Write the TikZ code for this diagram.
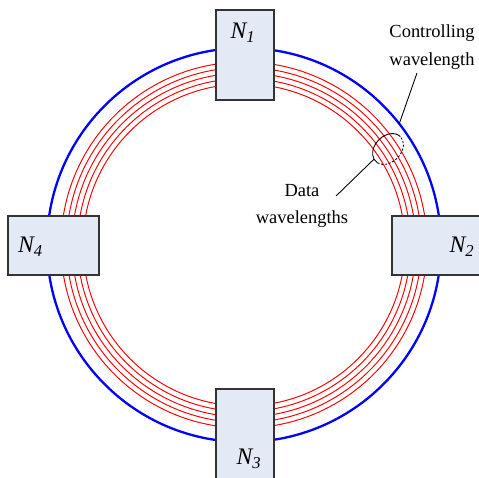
\documentclass[tikz,border=0pt]{standalone}
\usepackage{fontspec}
\setmainfont{Liberation Serif}
\usepackage{tikz}
\usetikzlibrary{calc,shadows}
\definecolor{BoxFill}{HTML}{E4EAF5}
\definecolor{BoxLine}{HTML}{333333}

\begin{document}
\begin{tikzpicture}[x=0.02cm,y=0.02cm,
    nodebox/.style={draw=BoxLine,fill=BoxFill,line width=0.6pt,inner sep=0pt,
      drop shadow={shadow xshift=-0.5pt,shadow yshift=-0.6pt,fill=gray!70,opacity=1}},
    nodelab/.style={font=\fontsize{13.5}{16}\selectfont\itshape,inner sep=0pt},
    datawl/.style={draw=red,line width=0.55pt},
    ctrlwl/.style={draw=blue,line width=1.3pt},
    callout/.style={font=\fontsize{10.5}{15.5}\selectfont,align=center,inner sep=0pt},
    pointer/.style={draw=black,line width=0.5pt}
]
\useasboundingbox (0,0) rectangle (479,477);
\coordinate (ring) at (244,232);
% wavelength rings
\draw[ctrlwl] (ring) circle[radius=197];
\foreach \r in {161,166.5,172,177.5,183}{\draw[datawl] (ring) circle[radius=\r];}
% ring nodes
\node[nodebox,minimum width=1.16cm,minimum height=1.8cm] (n1) at (245,422) {};
\node[nodebox,minimum width=1.82cm,minimum height=1.18cm] (n2) at (437.5,231.5) {};
\node[nodebox,minimum width=1.16cm,minimum height=1.8cm] (n3) at (245,43) {};
\node[nodebox,minimum width=1.82cm,minimum height=1.18cm] (n4) at (53.5,231.5) {};
\node[nodelab] (n1lab) at (243,444) {N\textsubscript{1}};
\node[nodelab] (n2lab) at (462,230) {N\textsubscript{2}};
\node[nodelab] (n3lab) at (249,18) {N\textsubscript{3}};
\node[nodelab] (n4lab) at (30.5,230.5) {N\textsubscript{4}};
% marked data wavelengths
\begin{scope}[shift={(388,328)},rotate=45]
\draw[pointer] (0:17.5 and 13) arc[start angle=0,end angle=190,x radius=17.5,y radius=13];
\draw[pointer,dash pattern=on 1.2pt off 1pt] (190:17.5 and 13) arc[start angle=190,end angle=360,x radius=17.5,y radius=13];
\coordinate (wlend) at (168:17.5 and 13);
\end{scope}
% callouts
\node[callout] (ctrltxt) at (432,430) {Controlling\\wavelength};
\node[callout] (datatxt) at (302,271) {Data\\wavelengths};
\coordinate (ctrlptr) at (417,404);
\coordinate (ctrlend) at ($(ring)+(38:197)$);
\coordinate (dataptr) at (336,281);
\draw[pointer] (ctrlptr) -- (ctrlend);
\draw[pointer] (dataptr) -- (wlend);
\end{tikzpicture}
\end{document}
